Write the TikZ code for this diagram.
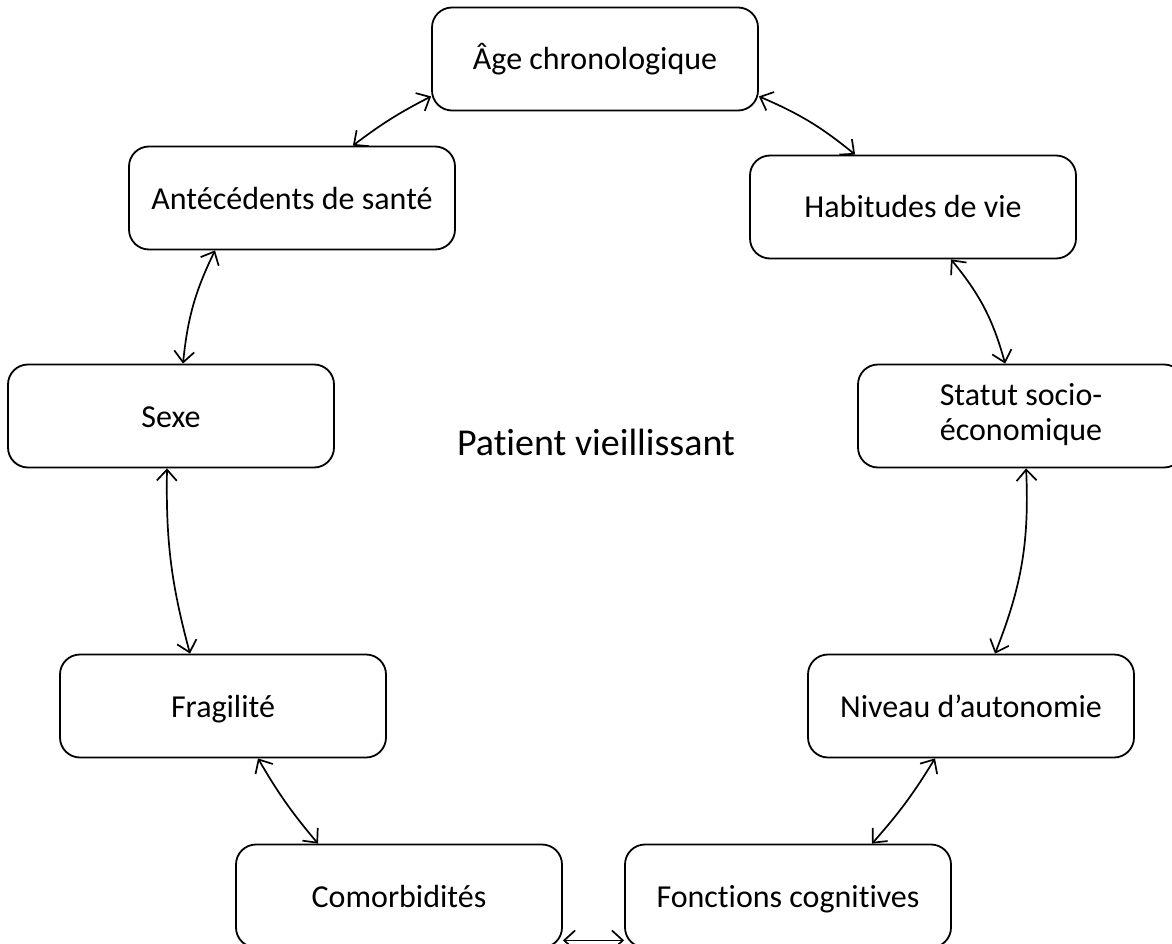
\documentclass[tikz,border=0pt]{standalone}
\usepackage{fontspec}
\setmainfont{Carlito}[Ligatures=NoCommon]
\usetikzlibrary{arrows.meta}

\tikzset{
  factor/.style={draw=black, line width=1.8pt, rounded corners=20pt, minimum width=326pt, minimum height=103pt, inner sep=0pt, align=center, text height=26pt, text depth=4pt, font=\fontsize{32}{35}\selectfont},
  link/.style={line width=1.7pt, {Straight Barb[length=11pt,width=20pt]}-{Straight Barb[length=11pt,width=20pt]}},
}

\begin{document}
\begin{tikzpicture}[x=1pt, y=-1pt]

\clip (0, 0) rectangle (1172, 944);

% Factors around the patient
\node[factor] (age) at (595, 59) {Âge chronologique};
\node[factor] (habitudes) at (913, 207) {Habitudes de vie};
\node[factor, text height=56pt, text depth=8pt] (statut) at (1021, 416) {Statut socio-\\économique};
\node[factor] (niveau) at (971, 706) {Niveau d’autonomie};
\node[factor] (fonctions) at (788, 896) {Fonctions cognitives};
\node[factor] (comorb) at (399, 896) {Comorbidités};
\node[factor] (fragilite) at (223, 706) {Fragilité};
\node[factor] (sexe) at (171, 416) {Sexe};
\node[factor] (antecedents) at (292, 198) {Antécédents de santé};

% Centre
\node[font=\fontsize{38}{44}\selectfont] (patient) at (596, 442) {Patient vieillissant};

% Links
\draw[link] ([yshift=15pt]age.south east) to[bend left=8] ([xshift=106pt]habitudes.north west);
\draw[link] ([xshift=38pt]habitudes.south) to[bend left=12] ([xshift=148pt]statut.north west);
\draw[link] ([xshift=169pt]statut.south west) to[bend left=12] ([xshift=24pt]niveau.north);
\draw[link] ([xshift=-36pt]niveau.south) to[bend left=5] ([xshift=84pt]fonctions.north);
\draw[link] ([yshift=8pt]fonctions.south west) -- ([yshift=8pt]comorb.south east);
\draw[link] ([xshift=-81pt]comorb.north) to[bend left=5] ([xshift=35pt]fragilite.south);
\draw[link] ([xshift=-33pt]fragilite.north) to[bend left=8] ([xshift=-4pt]sexe.south);
\draw[link] ([xshift=12pt]sexe.north) to[bend left=10] ([xshift=-77pt]antecedents.south);
\draw[link] ([xshift=-103pt]antecedents.north east) to[bend left=5] ([yshift=15pt]age.south west);

\end{tikzpicture}
\end{document}
